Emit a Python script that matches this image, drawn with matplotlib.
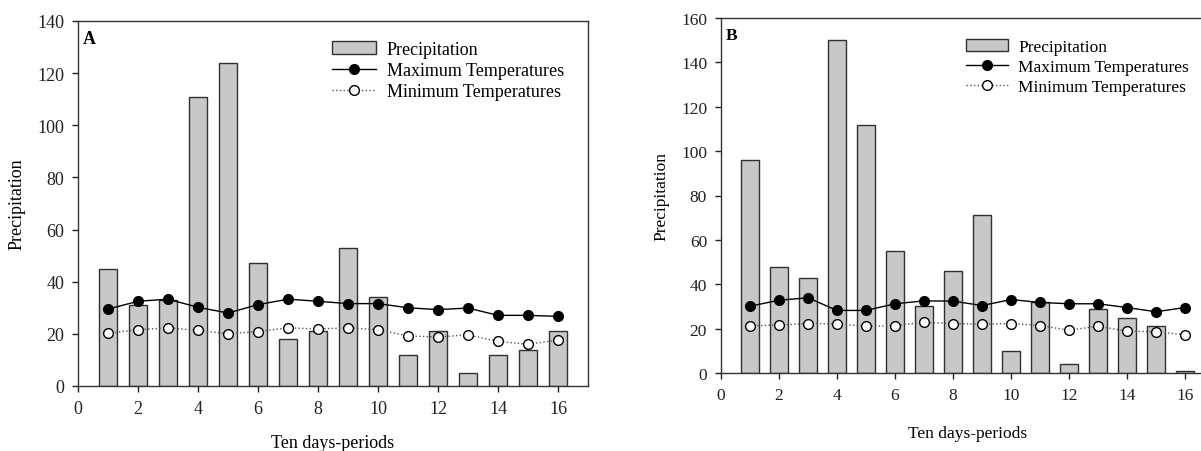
import matplotlib
matplotlib.use("Agg")
import matplotlib.pyplot as plt
from matplotlib.patches import Patch
from matplotlib.lines import Line2D

plt.rcParams['font.family'] = ['Liberation Serif', 'DejaVu Serif']

periods = list(range(1, 17))

precip_A = [45, 31, 33, 111, 124, 47, 18, 21, 53, 34, 12, 21, 5, 12, 14, 21]
tmax_A = [29.5, 32.5, 33.3, 30.2, 28.0, 31.2, 33.3, 32.5, 31.6, 31.6, 30.0, 29.3, 29.9, 27.1, 27.1, 26.7]
tmin_A = [20.2, 21.6, 22.3, 21.3, 20.0, 20.9, 22.3, 21.9, 22.3, 21.6, 19.2, 18.8, 19.6, 17.1, 16.0, 17.6]

precip_B = [96, 48, 43, 150, 112, 55, 30, 46, 71, 10, 32, 4, 29, 25, 21, 1]
tmax_B = [30.1, 32.8, 33.9, 28.2, 28.2, 31.2, 32.5, 32.4, 30.4, 33.1, 31.8, 31.2, 31.2, 29.5, 27.6, 29.5]
tmin_B = [21.3, 21.6, 22.3, 22.2, 21.0, 21.4, 22.8, 22.3, 22.0, 22.3, 21.4, 19.3, 21.1, 18.9, 18.6, 17.2]

xticks = list(range(0, 17, 2))
yticks_A = list(range(0, 141, 20))
yticks_B = list(range(0, 161, 20))

labels = ["Precipitation", "Maximum Temperatures", "Minimum Temperatures"]

fig = plt.figure(figsize=(12.01, 4.52), dpi=100)
axA = fig.add_axes([78/1201, (452-387)/452, 510/1201, 365/452])
axB = fig.add_axes([721/1201, (452-374)/452, 493/1201, 355/452])

bar_fc = '#c8c8c8'
bar_ec = '#303030'


def draw(ax, precip, tmax, tmin, yticks, ymax, letter, fs, legend_anchor, xpad):
    ax.bar(periods, precip, width=0.6, color=bar_fc, edgecolor=bar_ec, linewidth=1.0, zorder=2)
    ax.plot(periods, tmax, color='black', linewidth=1.0, marker='o', markersize=7,
            markerfacecolor='black', markeredgecolor='black', zorder=3)
    ax.plot(periods, tmin, color='#555555', linewidth=1.0, linestyle=':', marker='o', markersize=7,
            markerfacecolor='white', markeredgecolor='black', markeredgewidth=1.0, zorder=3)
    ax.set_xlim(0, 17)
    ax.set_ylim(0, ymax)
    ax.set_xticks(xticks)
    ax.set_yticks(yticks)
    ax.tick_params(direction='out', length=4, width=1, labelsize=fs, colors='#222222', pad=6)
    for s in ax.spines.values():
        s.set_linewidth(1.0)
        s.set_color('#333333')
    ax.set_xlabel("Ten days-periods", fontsize=fs, labelpad=xpad)
    ax.set_ylabel("Precipitation", fontsize=fs, labelpad=8)
    ax.text(0.01, 0.975, letter, transform=ax.transAxes, fontsize=fs, fontweight='bold', va='top', ha='left')
    handles = [Patch(facecolor=bar_fc, edgecolor=bar_ec, linewidth=1.0),
               Line2D([], [], color='black', linewidth=1.0, marker='o', markersize=7,
                      markerfacecolor='black'),
               Line2D([], [], color='#555555', linewidth=1.0, linestyle=':', marker='o', markersize=7,
                      markerfacecolor='white', markeredgecolor='black')]
    ax.legend(handles, labels, loc='upper left', bbox_to_anchor=legend_anchor, frameon=False,
              fontsize=fs, handlelength=2.4, handletextpad=0.6, labelspacing=0.22,
              borderaxespad=0, borderpad=0)


draw(axA, precip_A, tmax_A, tmin_A, yticks_A, 140, 'A', 13, (0.499, 0.945), 12)
draw(axB, precip_B, tmax_B, tmin_B, yticks_B, 160, 'B', 12.5, (0.497, 0.94), 16)

fig.savefig('out.png', dpi=100)
